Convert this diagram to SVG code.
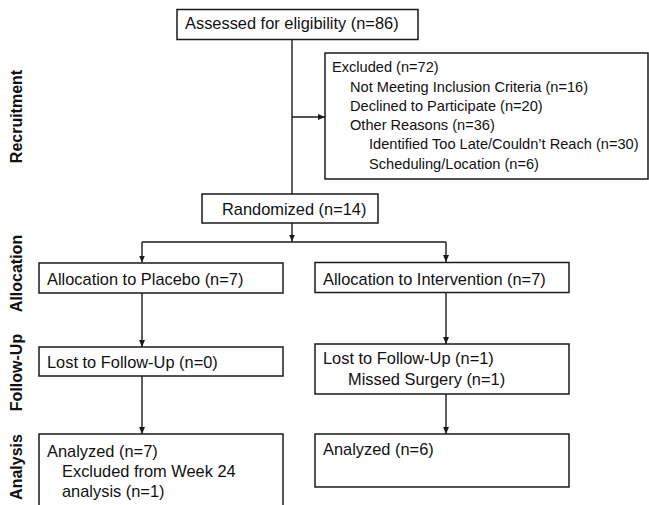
<svg xmlns="http://www.w3.org/2000/svg" width="649" height="505" viewBox="0 0 649 505">
<defs>
<marker id="ah" markerUnits="userSpaceOnUse" markerWidth="8" markerHeight="7" refX="7" refY="3" orient="auto">
<path d="M0,0 L7,3 L0,6 z" fill="#1a1a1a"/>
</marker>
<style>
.box{fill:#fff;stroke:#1a1a1a;stroke-width:1.5}
.t{font-family:"Liberation Sans",Arial,sans-serif;font-size:16.4px;fill:#111}
.s{font-family:"Liberation Sans",Arial,sans-serif;font-size:14.6px;fill:#111}
.lab{font-family:"Liberation Sans",Arial,sans-serif;font-size:16px;font-weight:bold;fill:#111;text-anchor:middle}
.c{fill:none;stroke:#1a1a1a;stroke-width:1.4}
</style>
</defs>
<rect width="649" height="505" fill="#fff"/>
<g id="phase-labels">
<text class="lab" transform="translate(21.5,116.5) rotate(-90)">Recruitment</text>
<text class="lab" transform="translate(21.5,273.5) rotate(-90)">Allocation</text>
<text class="lab" transform="translate(21.5,372.5) rotate(-90)">Follow-Up</text>
<text class="lab" transform="translate(21.5,467) rotate(-90)">Analysis</text>
</g>
<g id="connectors">
<line class="c" x1="292" y1="39.5" x2="292" y2="194"/>
<line class="c" x1="292" y1="117" x2="325" y2="117" marker-end="url(#ah)"/>
<line class="c" x1="292" y1="223" x2="292" y2="241.5" marker-end="url(#ah)"/>
<line class="c" x1="142" y1="242" x2="446" y2="242"/>
<line class="c" x1="142" y1="242" x2="142" y2="262.5" marker-end="url(#ah)"/>
<line class="c" x1="446" y1="242" x2="446" y2="262" marker-end="url(#ah)"/>
<line class="c" x1="142" y1="293" x2="142" y2="347" marker-end="url(#ah)"/>
<line class="c" x1="446" y1="292" x2="446" y2="344" marker-end="url(#ah)"/>
<line class="c" x1="142" y1="376" x2="142" y2="434" marker-end="url(#ah)"/>
<line class="c" x1="446" y1="394" x2="446" y2="434" marker-end="url(#ah)"/>
</g>
<g id="assessed">
<rect class="box" x="177" y="9.5" width="241" height="30"/>
<text class="t" x="185" y="29">Assessed for eligibility (n=86)</text>
</g>
<g id="excluded">
<rect class="box" x="325" y="53" width="323" height="126"/>
<text class="s" x="332" y="72">Excluded (n=72)</text>
<text class="s" x="350" y="91.5">Not Meeting Inclusion Criteria (n=16)</text>
<text class="s" x="350" y="110.8">Declined to Participate (n=20)</text>
<text class="s" x="350" y="130">Other Reasons (n=36)</text>
<text class="s" x="369" y="149.3">Identified Too Late/Couldn’t Reach (n=30)</text>
<text class="s" x="369" y="168.5">Scheduling/Location (n=6)</text>
</g>
<g id="randomized">
<rect class="box" x="202" y="194" width="176" height="29"/>
<text class="t" x="222" y="215">Randomized (n=14)</text>
</g>
<g id="alloc-placebo">
<rect class="box" x="39" y="263" width="244" height="30"/>
<text class="t" x="47" y="285">Allocation to Placebo (n=7)</text>
</g>
<g id="alloc-intervention">
<rect class="box" x="315" y="262.5" width="254" height="30"/>
<text class="t" x="323" y="284.5">Allocation to Intervention (n=7)</text>
</g>
<g id="lost-placebo">
<rect class="box" x="39" y="347" width="244" height="29"/>
<text class="t" x="47" y="368">Lost to Follow-Up (n=0)</text>
</g>
<g id="lost-intervention">
<rect class="box" x="315" y="344" width="254" height="50"/>
<text class="t" x="323" y="364">Lost to Follow-Up (n=1)</text>
<text class="t" x="348" y="385">Missed Surgery (n=1)</text>
</g>
<g id="analyzed-placebo">
<rect class="box" x="39" y="434" width="244" height="80"/>
<text class="t" x="47" y="457">Analyzed (n=7)</text>
<text class="t" x="62" y="477">Excluded from Week 24</text>
<text class="t" x="62" y="497">analysis (n=1)</text>
</g>
<g id="analyzed-intervention">
<rect class="box" x="315" y="434" width="254" height="53"/>
<text class="t" x="323" y="455">Analyzed (n=6)</text>
</g>
</svg>
